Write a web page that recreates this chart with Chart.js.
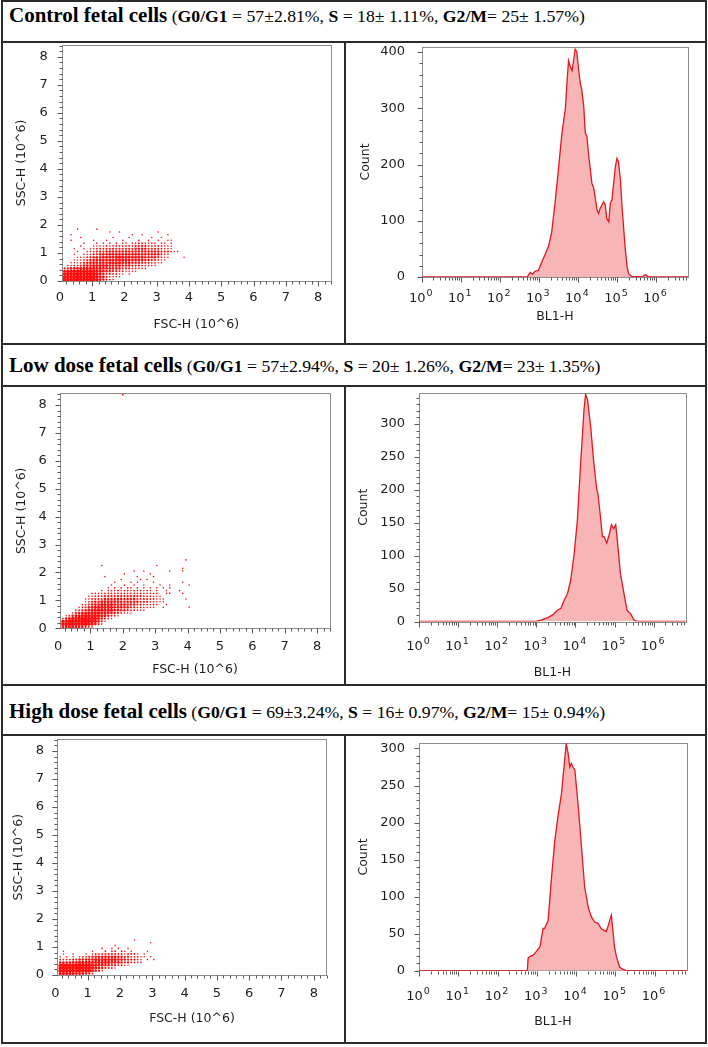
<!DOCTYPE html>
<html><head><meta charset="utf-8">
<script src="https://cdn.jsdelivr.net/npm/chart.js@4.4.0/dist/chart.umd.min.js"></script>
<style>
html,body{margin:0;padding:0;background:#fff;}
body{width:708px;height:1047px;position:relative;overflow:hidden;}
.ln{position:absolute;background:#2b2b2b;}
.hdr{position:absolute;left:9px;font-family:"Liberation Serif","Times New Roman",serif;white-space:nowrap;color:#000;line-height:21px;height:21px;}
.hdr .big{font-size:21px;font-weight:bold;}
.hdr .small{font-size:17.7px;}
canvas{position:absolute;}
</style></head><body>
<div class="ln" style="left:1px;top:0;width:706px;height:2px"></div>
<div class="ln" style="left:1px;top:0;width:2px;height:1044px"></div>
<div class="ln" style="left:705px;top:0;width:2px;height:1044px"></div>
<div class="ln" style="left:1px;top:1042px;width:706px;height:2px"></div>
<div class="ln" style="left:1px;top:41px;width:706px;height:2px"></div>
<div class="ln" style="left:1px;top:343px;width:706px;height:2px"></div>
<div class="ln" style="left:1px;top:385px;width:706px;height:2px"></div>
<div class="ln" style="left:1px;top:684px;width:706px;height:2px"></div>
<div class="ln" style="left:1px;top:734px;width:706px;height:2px"></div>
<div class="ln" style="left:344px;top:41px;width:2px;height:304px"></div>
<div class="ln" style="left:344px;top:385px;width:2px;height:301px"></div>
<div class="ln" style="left:344px;top:734px;width:2px;height:310px"></div>

<div class="hdr" style="top:5px"><span class="big">Control fetal cells</span><span class="small"> (<b>G0/G1</b> = 57±2.81%, <b>S</b> = 18± 1.11%, <b>G2/M</b>= 25± 1.57%)</span></div>
<div class="hdr" style="top:355px"><span class="big">Low dose fetal cells</span><span class="small"> (<b>G0/G1</b> = 57±2.94%, <b>S</b> = 20± 1.26%, <b>G2/M</b>= 23± 1.35%)</span></div>
<div class="hdr" style="top:701px"><span class="big">High dose fetal cells</span><span class="small"> (<b>G0/G1</b> = 69±3.24%, <b>S</b> = 16± 0.97%, <b>G2/M</b>= 15± 0.94%)</span></div>

<canvas id="s1"></canvas><canvas id="h1"></canvas>
<canvas id="s2"></canvas><canvas id="h2"></canvas>
<canvas id="s3"></canvas><canvas id="h3"></canvas>
<script>
// ---------------- DATA ----------------
// Scatter density grids (FSC-H vs SSC-H, units 10^6). Each string is one row of 0.1-wide cells
// starting at FSC-H = 0.1; rows run from the top row (lower edge = gridTop) downward by 0.1.
// Digits are the estimated event density 0..9.
const ctrlGridTop = 1.8;
const ctrlGrid = [
  "00001000001000000000000000000000000000",
  "00000000000000100100000000000100000000",
  "00100000000000000000010010000000100000",
  "00000100000000010000100000010010000000",
  "00100000010001000010000200100100110000",
  "00000010001010101011011221111011010000",
  "00000100011112122222223333222221110000",
  "00010010112223333333334444333321110000",
  "00001001123334444444444444444433321100",
  "00010011233444555555555544444432100000",
  "00001112344455556666555554444321100001",
  "00011123445555666666555554433211000000",
  "00111234555555666655544433322110000000",
  "01122345566666555544433322211000000000",
  "33455666666655544433322111000000000000",
  "67888888887654433221111000000000000000",
  "89999999998543322110100000000000000000",
  "99999999998653211100000000000000000000",
  "99999999998543210000000000000000000000"
];
const lowGridTop = 2.4;
const lowGrid = [
  "000000000000000000000000000000000000001000",
  "000000000000000000000000000000000000000000",
  "000000000000100000000000000001000000000000",
  "000000000000000000000000000000000000010000",
  "000000000000000000000010010000000100010000",
  "000000000000000000010000000100000000000000",
  "000000000000010000000001000010000000000000",
  "000000000000000000100000101000000000000000",
  "000000000000000010000101000010000000010000",
  "000000000000000100020010010000100100000100",
  "000000000000001020202102010101010100000000",
  "000000000000101212122121211101001000100000",
  "000000000111122222222222211111001100010000",
  "000000001122233333333333322211100000000000",
  "000000011233344444444443333221110000001000",
  "000000012344555555444444333221110000000000",
  "000000123455666655554443322111001000000000",
  "000001234566666655544332211110010000000100",
  "000012345667766655443221110000000000000000",
  "000134567777665543211100000000000000000000",
  "012456788887654321000000000000000000000000",
  "246789999986432100000000000000000000000000",
  "789999999975310000000000000000000000000000",
  "999999998753100000000000000000000000000000",
  "556654432100000000000000000000000000000000"
];
const lowOutliers = [[2.0, 8.37]];
const highGridTop = 1.2;
const highGrid = [
  "0000000000000000000000010000000",
  "0000000000000000000000000000100",
  "0000000000000000010000000000000",
  "0000000000000100101001000000000",
  "0100000000100020220210100001000",
  "0100100010122233332212221010000",
  "1010101223445555554433222110100",
  "2222334445566666665543332101010",
  "4444556666666666555433221100000",
  "8999999998765544332211000000000",
  "9999999999765432210000000000000",
  "9999999999643100000000000000000",
  "6666655543200000000000000000000"
];

// Histograms: BL1-H as log10 exponent, Count
const ctrlExp   = [0, 2.70, 2.78, 2.84, 2.90, 2.99, 3.08, 3.16, 3.25, 3.33, 3.42, 3.50, 3.59, 3.68, 3.72, 3.76, 3.80, 3.85, 3.89, 3.93, 3.97, 4.02, 4.06, 4.10, 4.15, 4.19, 4.23, 4.27, 4.36, 4.40, 4.44, 4.49, 4.53, 4.57, 4.66, 4.70, 4.74, 4.79, 4.83, 4.87, 4.96, 5.00, 5.04, 5.09, 5.13, 5.17, 5.21, 5.26, 5.30, 5.38, 5.65, 5.70, 5.73, 5.77, 5.82, 6.82];
const ctrlCount = [0, 0, 8, 5, 10, 12, 27, 40, 55, 80, 135, 190, 255, 300, 345, 385, 375, 367, 385, 405, 401, 368, 345, 333, 303, 256, 250, 220, 166, 160, 143, 119, 113, 122, 134, 128, 104, 98, 131, 137, 196, 211, 205, 172, 125, 89, 53, 18, 6, 1, 0, 3, 4, 2, 0, 0];
const lowExp    = [0, 2.99, 3.12, 3.29, 3.42, 3.54, 3.63, 3.71, 3.80, 3.88, 3.97, 4.05, 4.14, 4.22, 4.26, 4.31, 4.39, 4.47, 4.54, 4.58, 4.64, 4.69, 4.73, 4.80, 4.86, 4.92, 4.98, 5.03, 5.07, 5.15, 5.24, 5.32, 5.41, 5.49, 5.58, 6.82];
const lowCount  = [0, 0, 2, 6, 10, 17, 20, 32, 43, 63, 104, 154, 246, 322, 345, 337, 296, 241, 203, 192, 159, 129, 129, 119, 131, 147, 141, 147, 124, 73, 43, 17, 12, 3, 0, 0];
const highExp   = [0, 2.76, 2.78, 2.82, 2.91, 2.99, 3.08, 3.16, 3.20, 3.29, 3.37, 3.46, 3.54, 3.63, 3.71, 3.75, 3.80, 3.84, 3.88, 3.92, 3.97, 4.05, 4.14, 4.22, 4.31, 4.39, 4.47, 4.56, 4.64, 4.77, 4.81, 4.86, 4.90, 4.94, 4.98, 5.03, 5.11, 5.19, 5.28, 6.82];
const highCount = [0, 0, 17, 19, 21, 26, 32, 57, 57, 68, 122, 176, 208, 239, 284, 307, 293, 275, 280, 275, 271, 226, 167, 113, 86, 73, 66, 64, 57, 53, 59, 68, 75, 55, 32, 19, 5, 2, 0, 0];

// Tick labels
const scatterTicks = [0, 1, 2, 3, 4, 5, 6, 7, 8];
const expTicks = [0, 1, 2, 3, 4, 5, 6];
const expTickBase = "10";
const expTickPowers = ["0", "1", "2", "3", "4", "5", "6"];
const ctrlCountTicks = [0, 100, 200, 300, 400];
const doseCountTicks = [0, 50, 100, 150, 200, 250, 300];

// ---------------- RENDER ----------------
const FONT = '"DejaVu Sans", Verdana, sans-serif';
const TXT = '#1e1e1e';
const GSTEP = 0.1;

function gridPoints(rows, top) {
  const pts = [];
  rows.forEach((row, i) => {
    const yLow = top - i * GSTEP;
    for (let j = 0; j < row.length; j++) {
      const d = +row[j];
      if (d > 0) pts.push({x: 0.1 + j * GSTEP + GSTEP / 2, y: yLow + GSTEP / 2, d});
    }
  });
  return pts;
}
function range(a, b, s) { const r = []; for (let v = a; v <= b + 1e-9; v += s) r.push(+v.toFixed(4)); return r; }
function logMinor(maxE) { const r = []; for (let n = 0; n < 7; n++) for (let k = 2; k <= 9; k++) { const e = n + Math.log10(k); if (e <= maxE) r.push(e); } return r; }

const framePlugin = {
  id: 'frame',
  beforeDatasetsDraw(chart, args, o) {
    const {ctx, chartArea: a, scales} = chart;
    ctx.save();
    ctx.strokeStyle = '#8d8d8d'; ctx.lineWidth = 1;
    ctx.strokeRect(Math.round(a.left) + 0.5, Math.round(a.top) + 0.5, Math.round(a.right - a.left), Math.round(a.bottom - a.top));
    ctx.strokeStyle = '#5a5a5a';
    ctx.beginPath();
    const X = scales.x, Y = scales.y;
    const bx = Math.round(a.bottom) + 0.5, lx = Math.round(a.left) + 0.5;
    const xt = (vals, len) => vals.forEach(v => { const p = X.getPixelForValue(v); if (p < a.left - 0.5 || p > a.right + 0.5) return; const q = Math.round(p) + 0.5; ctx.moveTo(q, bx); ctx.lineTo(q, bx + len); });
    const yt = (vals, len) => vals.forEach(v => { const p = Y.getPixelForValue(v); if (p < a.top - 0.5 || p > a.bottom + 0.5) return; const q = Math.round(p) + 0.5; ctx.moveTo(lx, q); ctx.lineTo(lx - len, q); });
    xt(o.xMajor, 5); xt(o.xMinor, 3); yt(o.yMajor, 5); yt(o.yMinor, 3);
    ctx.stroke();
    ctx.restore();
  },
  afterDraw(chart, args, o) {
    if (!o.powerLabels) return;
    const {ctx, scales} = chart;
    const X = scales.x;
    ctx.save();
    ctx.fillStyle = TXT;
    ctx.textBaseline = 'middle';
    ctx.textAlign = 'left';
    o.powerTicks.forEach((v, i) => {
      const p = X.getPixelForValue(v);
      ctx.font = '13px ' + FONT;
      const w1 = ctx.measureText(expTickBase).width;
      ctx.font = '9.5px ' + FONT;
      const w2 = ctx.measureText(o.powerLabels[i]).width;
      const x0 = p - (w1 + w2 + 1) / 2 - 1;
      ctx.font = '13px ' + FONT;
      ctx.fillText(expTickBase, x0, o.labelY);
      ctx.font = '9.5px ' + FONT;
      ctx.fillText(o.powerLabels[i], x0 + w1 + 1, o.labelY - 5);
    });
    ctx.restore();
  }
};

function makeChart(id, sp, datasets, xsc, ysc, frame) {
  const cv = document.getElementById(id);
  const c = sp.cell, a = sp.area;
  cv.width = c.w; cv.height = c.h;
  cv.style.left = c.x + 'px'; cv.style.top = c.y + 'px';
  cv.style.width = c.w + 'px'; cv.style.height = c.h + 'px';
  const tickFont = {family: FONT, size: 13};
  const titleFont = {family: FONT, size: 12.5};
  const tlh = 13 * 1.2, ttl = 12.5 * 1.2;
  const yW = a.L - c.x, xH = c.y + c.h - a.B;
  return new Chart(cv, {
    data: {datasets},
    options: {
      responsive: false, animation: false, devicePixelRatio: 1,
      layout: {autoPadding: false, padding: {left: 0, top: a.T - c.y, right: c.x + c.w - a.R, bottom: 0}},
      plugins: {legend: {display: false}, tooltip: {enabled: false}, frame},
      scales: {
        x: {
          type: 'linear', min: xsc.min, max: xsc.max,
          grid: {display: false, drawTicks: false}, border: {display: false},
          afterBuildTicks: s => { s.ticks = xsc.ticks.map(v => ({value: v})); },
          afterFit: s => { s.height = xH; s.paddingLeft = 0; s.paddingRight = 0; },
          ticks: {autoSkip: false, maxRotation: 0, minRotation: 0, color: TXT, font: tickFont,
                  padding: sp.xLabelY - a.B - tlh / 2, callback: xsc.label},
          title: {display: true, text: xsc.title, color: TXT, font: titleFont,
                  padding: {top: 0, bottom: c.y + c.h - sp.xTitleY - ttl / 2}}
        },
        y: {
          type: 'linear', min: ysc.min, max: ysc.max,
          grid: {display: false, drawTicks: false}, border: {display: false},
          afterBuildTicks: s => { s.ticks = ysc.ticks.map(v => ({value: v})); },
          afterFit: s => { s.width = yW; s.paddingTop = 0; s.paddingBottom = 0; },
          ticks: {autoSkip: false, color: TXT, font: tickFont, padding: sp.yLabelGap, callback: ysc.label},
          title: {display: true, text: ysc.title, color: TXT, font: titleFont,
                  padding: {top: sp.yTitleX - c.x - ttl / 2, bottom: 0}}
        }
      }
    },
    plugins: [framePlugin]
  });
}

function scatterChart(id, sp, rows, top, extra) {
  const ds = [{
    type: 'scatter', data: gridPoints(rows, top),
    pointStyle: 'circle', backgroundColor: '#ff0d0d', borderWidth: 0,
    pointRadius: ctx => ctx.raw ? Math.max(0.8, 1.9 * Math.sqrt(ctx.raw.d / 9)) : 0
  }];
  if (extra) ds.push({type: 'scatter', data: extra.map(p => ({x: p[0], y: p[1]})),
    pointStyle: 'circle', backgroundColor: '#ff0d0d', borderWidth: 0, pointRadius: 0.9});
  makeChart(id, sp, ds,
    {min: sp.xmin, max: 8.4, ticks: scatterTicks, label: v => String(v), title: 'FSC-H (10^6)'},
    {min: 0, max: 8.42, ticks: scatterTicks, label: v => String(v), title: 'SSC-H (10^6)'},
    {xMajor: scatterTicks, xMinor: range(0, 8.4, 0.2), yMajor: scatterTicks, yMinor: range(0, 8.4, 0.2)});
}

function histChart(id, sp, xs, ys, ymax, yticks, minorStep) {
  const ds = [{
    type: 'line', data: xs.map((x, i) => ({x, y: ys[i]})),
    borderColor: '#e4161e', borderWidth: 1.3, backgroundColor: '#f8b5b5',
    fill: 'origin', pointRadius: 0, tension: 0
  }];
  makeChart(id, sp, ds,
    {min: 0, max: 6.82, ticks: expTicks, label: () => '', title: 'BL1-H'},
    {min: 0, max: ymax, ticks: yticks, label: v => String(v), title: 'Count'},
    {xMajor: expTicks, xMinor: logMinor(6.82), yMajor: yticks, yMinor: range(0, ymax, minorStep),
     powerTicks: expTicks, powerLabels: expTickPowers, labelY: sp.xLabelY - sp.cell.y});
}

scatterChart('s1', {cell: {x: 3, y: 43, w: 341, h: 300}, area: {L: 61.7, T: 45, R: 331, B: 281},
  xmin: 0.06, xLabelY: 298, xTitleY: 325, yLabelGap: 14, yTitleX: 22}, ctrlGrid, ctrlGridTop);
scatterChart('s2', {cell: {x: 3, y: 387, w: 341, h: 297}, area: {L: 60, T: 393.3, R: 330, B: 628.3},
  xmin: 0.06, xLabelY: 646.7, xTitleY: 670, yLabelGap: 13.3, yTitleX: 21.7}, lowGrid, lowGridTop, lowOutliers);
scatterChart('s3', {cell: {x: 3, y: 736, w: 341, h: 306}, area: {L: 57.3, T: 739.3, R: 326.7, B: 975},
  xmin: 0.06, xLabelY: 994, xTitleY: 1018.3, yLabelGap: 13.3, yTitleX: 18.3}, highGrid, highGridTop);

histChart('h1', {cell: {x: 346, y: 43, w: 359, h: 300}, area: {L: 421.7, T: 47, R: 688, B: 277},
  xLabelY: 298.5, xTitleY: 317, yLabelGap: 16.7, yTitleX: 366}, ctrlExp, ctrlCount, 409, ctrlCountTicks, 20);
histChart('h2', {cell: {x: 346, y: 387, w: 359, h: 297}, area: {L: 419, T: 393, R: 685.7, B: 621.5},
  xLabelY: 646.7, xTitleY: 672.7, yLabelGap: 14, yTitleX: 364}, lowExp, lowCount, 347, doseCountTicks, 10);
histChart('h3', {cell: {x: 346, y: 736, w: 359, h: 306}, area: {L: 419, T: 743.3, R: 686.7, B: 970.7},
  xLabelY: 996.7, xTitleY: 1021.7, yLabelGap: 14, yTitleX: 364}, highExp, highCount, 307, doseCountTicks, 10);
</script>
</body></html>
